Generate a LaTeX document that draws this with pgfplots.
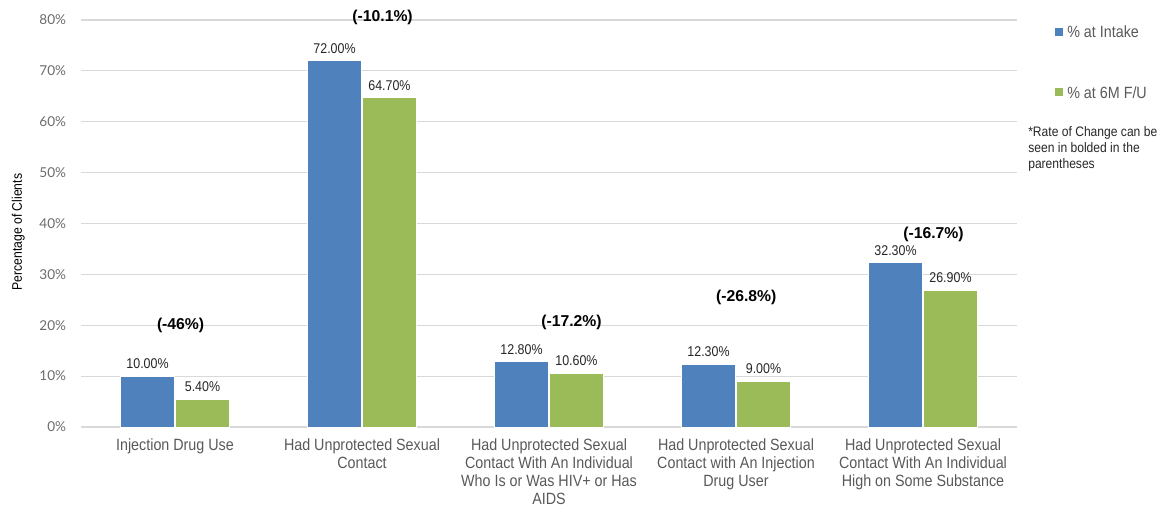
\documentclass[border=0pt]{standalone}
\usepackage{pgfplots}
\pgfplotsset{compat=1.18}
\usepackage{fontspec}
\setmainfont{Liberation Sans}
\newfontfamily\narrowfont[FakeStretch=0.88]{Liberation Sans}
\newfontfamily\tickfont{Lato}
\definecolor{intake}{HTML}{4F81BD}
\definecolor{followup}{HTML}{9BBB59}
\definecolor{labelgray}{HTML}{595959}
\definecolor{gridgray}{HTML}{D9D9D9}
\begin{document}
\begin{tikzpicture}[x=0.75pt,y=0.75pt]
% page frame, with the plot area's lower left corner at the origin
\path[use as bounding box] (-81.5,-84) rectangle (1080.5,427);
\begin{axis}[
  scale only axis,
  width=701.25pt, height=305.25pt,
  clip=false,
  /pgf/number format/assume math mode=true,
  ybar, bar width=41pt,
  xmin=-0.5, xmax=4.5,
  ymin=0, ymax=80,
  ytick={0,10,...,80},
  yticklabel={\pgfmathprintnumber{\tick}\%},
  yticklabel style={color=gray!85!black, font=\tickfont\fontsize{10.2}{12}\selectfont, xshift=-8pt},
  ymajorgrids, grid style={gridgray, line width=0.9pt},
  axis line style={draw=none},
  ytick style={draw=none}, xtick style={draw=none},
  xtick={0,1,2,3,4},
  xticklabels={
    {Injection Drug Use},
    {Had Unprotected Sexual\\Contact},
    {Had Unprotected Sexual\\Contact With An Individual\\Who Is or Was HIV+ or Has\\AIDS},
    {Had Unprotected Sexual\\Contact with An Injection\\Drug User},
    {Had Unprotected Sexual\\Contact With An Individual\\High on Some Substance}},
  xticklabel style={align=center, color=labelgray,
    font=\narrowfont\fontsize{12.2}{13.5}\selectfont, yshift=-1pt},
  ylabel={Percentage of Clients},
  ylabel style={font=\narrowfont\fontsize{10.4}{12}\selectfont,
    at={(axis description cs:-0.0675,0.479)}, anchor=center},
  nodes near coords={\pgfmathprintnumber[fixed,fixed zerofill,precision=2]{\pgfplotspointmeta}\%},
  nodes near coords style={font=\narrowfont\fontsize{10.6}{12}\selectfont, color=black!85, yshift=2pt},
  every axis plot/.append style={draw=white, line width=0.6pt},
]
\addplot[ybar, fill=intake, bar shift=-20.6pt] coordinates {(0,10.0) (1,72.0) (2,12.8) (3,12.3) (4,32.3)};
\addplot[ybar, fill=followup, bar shift=20.6pt] coordinates {(0,5.4) (1,64.7) (2,10.6) (3,9.0) (4,26.9)};
% rate of change annotations
\begin{scope}[every node/.style={font=\fontsize{11.8}{13}\selectfont\bfseries, color=black}]
\node at (axis cs:0.03,20.0) {(-46\%)};
\node at (axis cs:1.11,80.5) {(-10.1\%)};
\node at (axis cs:2.12,20.6) {(-17.2\%)};
\node at (axis cs:3.055,25.5) {(-26.8\%)};
\node at (axis cs:4.056,37.9) {(-16.7\%)};
\end{scope}
\end{axis}
% legend and note, placed in page pixels measured from the lower left corner
\begin{scope}[shift={(-81.5,-84)}]
\fill[intake] (1055,475) rectangle (1063,483);
\node[anchor=west, color=labelgray, font=\narrowfont\fontsize{12.2}{14}\selectfont, inner sep=0pt] at (1067,479) {\% at Intake};
\fill[followup] (1055,414.5) rectangle (1063,422.5);
\node[anchor=west, color=labelgray, font=\narrowfont\fontsize{12.2}{14}\selectfont, inner sep=0pt] at (1067,418.5) {\% at 6M F/U};
\node[anchor=north west, align=left, color=black!85, font=\narrowfont\fontsize{10.3}{12}\selectfont, inner sep=0pt] at (1028,385) {*Rate of Change can be\\seen in bolded in the\\parentheses};
\end{scope}
\end{tikzpicture}
\end{document}
